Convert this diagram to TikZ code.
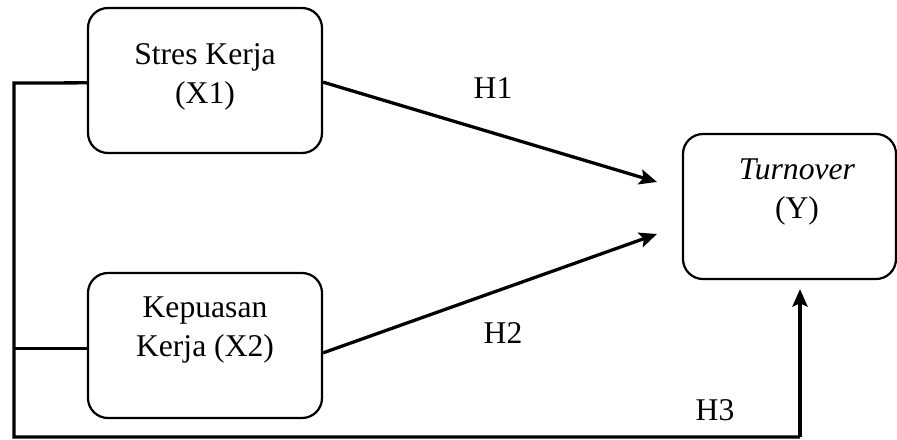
\documentclass[tikz,border=0pt]{standalone}
\usepackage{fontspec}
\setmainfont{Liberation Serif}
\usetikzlibrary{positioning, arrows.meta}

\begin{document}
\begin{tikzpicture}[
    x=0.03cm, y=-0.03cm,
    varBox/.style={draw=black, line width=1.9pt, rectangle, rounded corners=0.6cm, fill=white},
    varText/.style={align=center, font=\fontsize{27}{33.2}\selectfont, inner sep=0pt},
    hypLabel/.style={font=\fontsize{27}{33.2}\selectfont, inner sep=0pt},
    link/.style={line width=2.8pt},
    hypArrow/.style={line width=2.8pt, -{Stealth[length=15pt, width=13pt, inset=3pt]}},
]
\useasboundingbox (0,0) rectangle (897,439);
% variabel
\node[varBox, minimum width=7.02cm, minimum height=4.35cm] (stres) at (205,80.5) {};
\node[varText] (stresText) at (205,77) {Stres Kerja\\(X1)};
\node[varBox, minimum width=7.02cm, minimum height=4.35cm] (kepuasan) at (205,345.5) {};
\node[varText] (kepuasanText) at (205,330) {Kepuasan\\Kerja (X2)};
\node[varBox, minimum width=6.39cm, minimum height=4.35cm] (turnover) at (789.5,206.5) {};
\node[varText] (turnoverText) at (797,192) {\textit{Turnover}\\(Y)};
% titik bantu
\coordinate (busTop) at (14,83);
\coordinate (busCorner) at (14,437);
\coordinate (h3Foot) at (800,437);
\coordinate (h1Tip) at (657,182);
\coordinate (h2Tip) at (657,234);
% hipotesis
\draw[hypArrow] ([yshift=-0.05cm]stres.east) -- (h1Tip);
\draw[hypArrow] ([yshift=-0.22cm]kepuasan.east) -- (h2Tip);
\draw[link] ([yshift=-0.07cm]stres.west) -- (busTop) -- (busCorner) -- (h3Foot);
\draw[link] ([yshift=-0.1cm]kepuasan.west) -- ([yshift=-0.1cm]kepuasan.west -| busCorner);
\draw[hypArrow, shorten >=0.27cm] (h3Foot) -- (h3Foot |- turnover.south);
\node[hypLabel] (h1) at (493,88) {H1};
\node[hypLabel] (h2) at (503,333) {H2};
\node[hypLabel] (h3) at (715,410) {H3};
\end{tikzpicture}
\end{document}
